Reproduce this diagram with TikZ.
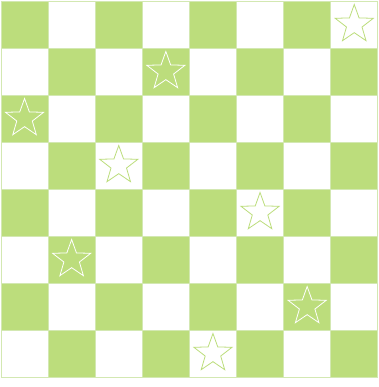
\documentclass[tikz,border=0pt]{standalone}
\usetikzlibrary{shapes.geometric}
\definecolor{boardgreen}{HTML}{BCDD7C}
\definecolor{gridline}{HTML}{D3E8B2}
\tikzset{
  darkcell/.style={fill=boardgreen,draw=gridline,line width=0.8pt},
  lightcell/.style={fill=white,draw=gridline,line width=0.8pt},
  starshape/.style={star,star points=5,star point ratio=2.45,minimum size=40pt,inner sep=0pt,line width=0.8pt},
  staronlight/.style={starshape,draw=boardgreen},
  staron dark/.style={starshape,draw=white},
}
\begin{document}
\begin{tikzpicture}[x=1pt,y=-1pt]
\useasboundingbox (0,0) rectangle (378,387);
\foreach \r in {0,...,7}{
  \foreach \c in {0,...,7}{
    \pgfmathtruncatemacro{\parity}{mod(\r+\c,2)}
    \ifnum\parity=0
      \path[darkcell] (1+\c*47.1,1+\r*47) rectangle ++(47.1,47);
    \else
      \path[lightcell] (1+\c*47.1,1+\r*47) rectangle ++(47.1,47);
    \fi
  }
}
\node[staronlight] (s0) at (1+7.5*47.1,1+0.5*47) {};
\node[staron dark] (s1) at (1+3.5*47.1,1+1.5*47) {};
\node[staron dark] (s2) at (1+0.5*47.1,1+2.5*47) {};
\node[staronlight] (s3) at (1+2.5*47.1,1+3.5*47) {};
\node[staronlight] (s4) at (1+5.5*47.1,1+4.5*47) {};
\node[staron dark] (s5) at (1+1.5*47.1,1+5.5*47) {};
\node[staron dark] (s6) at (1+6.5*47.1,1+6.5*47) {};
\node[staronlight] (s7) at (1+4.5*47.1,1+7.5*47) {};
\end{tikzpicture}
\end{document}
